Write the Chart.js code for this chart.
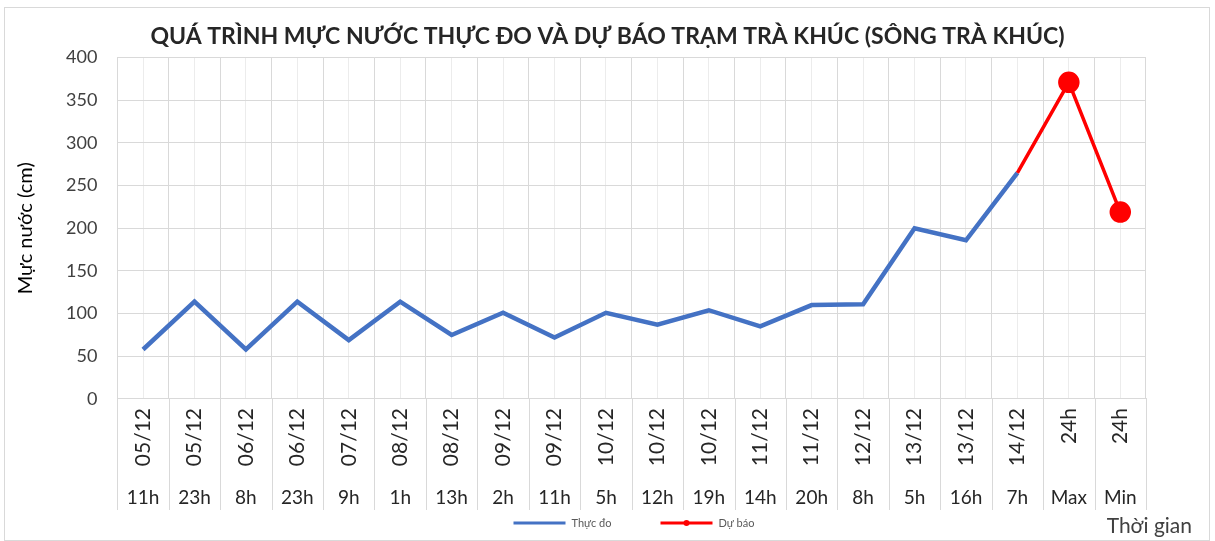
<!DOCTYPE html>
<html>
<head>
<meta charset="utf-8">
<script src="https://cdn.jsdelivr.net/npm/chart.js@4.4.1/dist/chart.umd.min.js"></script>
<style>
  html, body { margin: 0; padding: 0; background: #fff; }
  #wrap { position: relative; width: 1215px; height: 541px; }
</style>
</head>
<body>
<div id="wrap"><canvas id="chart"></canvas></div>
<script>
// Category labels (two rows: date rotated, hour below)
const dateLabels = ['05/12', '05/12', '06/12', '06/12', '07/12', '08/12', '08/12', '09/12', '09/12', '10/12',
  '10/12', '10/12', '11/12', '11/12', '12/12', '13/12', '13/12', '14/12', '24h', '24h'];
const hourLabels = ['11h', '23h', '8h', '23h', '9h', '1h', '13h', '2h', '11h', '5h',
  '12h', '19h', '14h', '20h', '8h', '5h', '16h', '7h', 'Max', 'Min'];

// Water level (cm)
const measured = [58, 114, 58, 114, 69, 114, 75, 101, 72, 101, 87, 104, 85, 110, 111, 200, 186, 265, null, null];
const forecast = [null, null, null, null, null, null, null, null, null, null,
  null, null, null, null, null, null, null, 265, 371, 219];

const yTicks = [0, 50, 100, 150, 200, 250, 300, 350, 400];

const FONT = 'Lato, "Open Sans", sans-serif';

// frame, category separators under the axis, small legend and the "Thời gian" caption
const extras = {
  id: 'extras',
  beforeDraw(chart) {
    const ctx = chart.ctx;
    ctx.save();
    ctx.fillStyle = '#fff';
    ctx.fillRect(0, 0, chart.width, chart.height);
    ctx.strokeStyle = '#d9d9d9';
    ctx.lineWidth = 1;
    ctx.strokeRect(4.5, 7.5, chart.width - 10, chart.height - 8);
    ctx.restore();
  },
  afterDraw(chart) {
    const ctx = chart.ctx;
    const x = chart.scales.x;
    const x2 = chart.scales.x2;
    const n = dateLabels.length;
    const step = (x.right - x.left) / n;
    ctx.save();
    ctx.strokeStyle = '#d9d9d9';
    ctx.lineWidth = 1;
    for (let i = 0; i <= n; i++) {
      const px = Math.round(x.left + i * step) + 0.5;
      ctx.beginPath();
      ctx.moveTo(px, chart.chartArea.bottom);
      ctx.lineTo(px, x2.bottom - 10);
      ctx.stroke();
    }

    // legend
    const ly = x2.bottom + 3;
    const mid = chart.width / 2;
    const entries = [
      { ds: chart.data.datasets[0], x0: mid - 94, dot: false },
      { ds: chart.data.datasets[1], x0: mid + 53, dot: true }
    ];
    ctx.font = '11px ' + FONT;
    ctx.textAlign = 'left';
    ctx.textBaseline = 'middle';
    entries.forEach(e => {
      ctx.strokeStyle = e.ds.borderColor;
      ctx.lineWidth = 3;
      ctx.beginPath();
      ctx.moveTo(e.x0, ly);
      ctx.lineTo(e.x0 + 52, ly);
      ctx.stroke();
      if (e.dot) {
        ctx.fillStyle = e.ds.borderColor;
        ctx.beginPath();
        ctx.arc(e.x0 + 26, ly, 3, 0, Math.PI * 2);
        ctx.fill();
      }
      ctx.fillStyle = '#595959';
      ctx.fillText(e.ds.label, e.x0 + 58, ly);
    });

    ctx.fillStyle = '#404040';
    ctx.font = '21px ' + FONT;
    ctx.textAlign = 'right';
    ctx.fillText('Thời gian', chart.width - 23, x2.bottom + 6);
    ctx.restore();
  }
};

new Chart(document.getElementById('chart'), {
  type: 'line',
  data: {
    labels: dateLabels,
    datasets: [{
      label: 'Thực đo',
      data: measured,
      borderColor: '#4472C4',
      backgroundColor: '#4472C4',
      borderWidth: 4.5,
      pointRadius: 0,
      tension: 0,
      order: 2
    }, {
      label: 'Dự báo',
      data: forecast,
      borderColor: '#FF0000',
      backgroundColor: '#FF0000',
      borderWidth: 3.5,
      pointRadius: forecast.map((v, i) => (v !== null && i > 17) ? 9 : 0),
      pointBackgroundColor: '#FF0000',
      pointBorderColor: '#FF0000',
      tension: 0,
      order: 1
    }]
  },
  options: {
    responsive: true,
    maintainAspectRatio: false,
    animation: false,
    layout: { padding: { left: 14, right: 14, top: 0, bottom: 21 } },
    plugins: {
      title: {
        display: true,
        text: 'QUÁ TRÌNH MỰC NƯỚC THỰC ĐO VÀ DỰ BÁO TRẠM TRÀ KHÚC (SÔNG TRÀ KHÚC)',
        color: '#262626',
        font: { family: FONT, size: 23, weight: 'bold' },
        padding: { top: 23, bottom: 7 }
      },
      legend: { display: false },
      tooltip: { enabled: false }
    },
    scales: {
      x: {
        position: 'bottom',
        weight: 0,
        offset: true,
        grid: { offset: true, color: '#d9d9d9', drawTicks: false },
        border: { color: '#d9d9d9' },
        ticks: {
          color: '#262626',
          font: { family: FONT, size: 21 },
          minRotation: 90,
          maxRotation: 90,
          autoSkip: false,
          padding: 9
        }
      },
      x2: {
        type: 'category',
        labels: hourLabels,
        position: 'bottom',
        weight: 1,
        offset: true,
        grid: { offset: false, color: '#ececec', drawTicks: false },
        border: { display: false },
        ticks: {
          color: '#262626',
          font: { family: FONT, size: 19 },
          minRotation: 0,
          maxRotation: 0,
          autoSkip: false,
          padding: 11
        }
      },
      y: {
        min: 0,
        max: 400,
        afterBuildTicks(scale) { scale.ticks = yTicks.map(v => ({ value: v })); },
        grid: { color: '#d9d9d9', drawTicks: false },
        border: { display: false },
        ticks: {
          color: '#404040',
          font: { family: FONT, size: 18 },
          padding: 20
        },
        title: {
          display: true,
          text: 'Mực nước (cm)',
          color: '#000',
          font: { family: FONT, size: 20 },
          padding: { top: 0, bottom: 8 }
        }
      },
      yRight: {
        position: 'right',
        display: true,
        grid: { display: false },
        border: { display: false },
        ticks: { display: false },
        afterFit(scale) { scale.width = 55; }
      }
    }
  },
  plugins: [extras]
});
</script>
</body>
</html>
